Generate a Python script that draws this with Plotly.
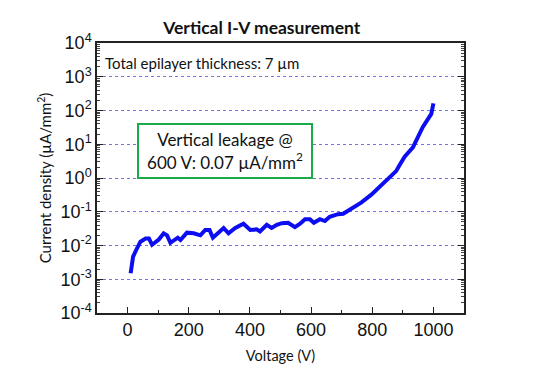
import plotly.graph_objects as go

voltage = [10, 18, 30, 42, 59, 70, 80, 102, 118, 129, 140, 164, 173, 194, 216, 238, 254, 268, 279,
           314, 330, 352, 379, 401, 422, 433, 455, 471, 488, 504, 525, 547, 564, 580, 596, 609, 629,
           645, 661, 688, 705, 732, 765, 797, 824, 851, 878, 889, 906, 933, 949, 965, 993, 1000]
current = [0.0015, 0.0047, 0.008, 0.013, 0.016, 0.016, 0.0105, 0.015, 0.023, 0.020, 0.012, 0.017,
           0.0145, 0.024, 0.023, 0.020, 0.029, 0.029, 0.017, 0.033, 0.023, 0.033, 0.044, 0.029,
           0.030, 0.026, 0.041, 0.033, 0.041, 0.046, 0.047, 0.035, 0.044, 0.06, 0.06, 0.047, 0.06,
           0.053, 0.071, 0.085, 0.087, 0.126, 0.19, 0.32, 0.55, 0.91, 1.6, 2.4, 4.3, 8.1, 17, 32,
           79, 163]

x_ticks = [0, 200, 400, 600, 800, 1000]
x_minor = [100, 300, 500, 700, 900]
y_exps = [-4, -3, -2, -1, 0, 1, 2, 3, 4]

y_tickvals = [10.0 ** e for e in y_exps]
y_ticktext = ["10<sup>%d</sup>" % e for e in y_exps]
y_minor = [m * 10.0 ** e for e in y_exps[:-1] for m in range(2, 10)]

fig = go.Figure()
fig.add_trace(go.Scatter(x=voltage, y=current, mode="lines",
                         line=dict(color="#0d0df2", width=4), showlegend=False))

tickfont = dict(family="Liberation Sans, Arial", size=18, color="#111")
textfont = "Lato, Open Sans"
fig.update_layout(
    width=542, height=379,
    margin=dict(l=97, r=78, t=43, b=66),
    paper_bgcolor="white", plot_bgcolor="white",
    title=dict(text="<b>Vertical I-V measurement</b>", x=0.483, xanchor="center",
               y=0.927, yanchor="middle",
               font=dict(family=textfont, size=17.5, color="#111")),
    xaxis=dict(range=[-100, 1100], tickvals=x_ticks, ticks="inside", ticklen=6,
               tickcolor="#222", showline=True, linecolor="#222", linewidth=1.5,
               mirror=True, showgrid=False, zeroline=False, tickfont=tickfont,
               minor=dict(tickvals=x_minor, ticks="inside", ticklen=3, tickcolor="#222"),
               title=dict(text="Voltage (V)", standoff=12,
                          font=dict(family=textfont, size=14.5, color="#111"))),
    yaxis=dict(type="log", range=[-4, 4], tickvals=y_tickvals, ticktext=y_ticktext,
               ticks="inside", ticklen=6, tickcolor="#222", showline=True, linecolor="#222",
               linewidth=1.5, mirror="ticks", zeroline=False, tickfont=tickfont,
               showgrid=True, gridcolor="#7474d4", griddash="dot", gridwidth=1,
               minor=dict(tickvals=y_minor, ticks="inside", ticklen=3, tickcolor="#444",
                          showgrid=False),
               title=dict(text="Current density (µA/mm<sup>2</sup>)", standoff=5,
                          font=dict(family=textfont, size=15, color="#111"))),
)

fig.add_annotation(text="Total epilayer thickness: 7 µm", xref="paper", yref="paper",
                   x=0.016, y=0.926, xanchor="left", yanchor="middle", showarrow=False,
                   font=dict(family=textfont, size=15, color="#111"))
fig.add_annotation(text="Vertical leakage @<br>600 V: 0.07 µA/mm<sup>2</sup>",
                   xref="paper", yref="paper", x=0.349, y=0.6, xanchor="center",
                   yanchor="middle", showarrow=False, align="center",
                   width=162, height=42,
                   bordercolor="#1aaa4a", borderwidth=2, borderpad=5, bgcolor="white",
                   font=dict(family=textfont, size=17, color="#111"))

fig.write_html("out.html", config={"displayModeBar": False},
               post_script="document.body.style.margin='0';")
